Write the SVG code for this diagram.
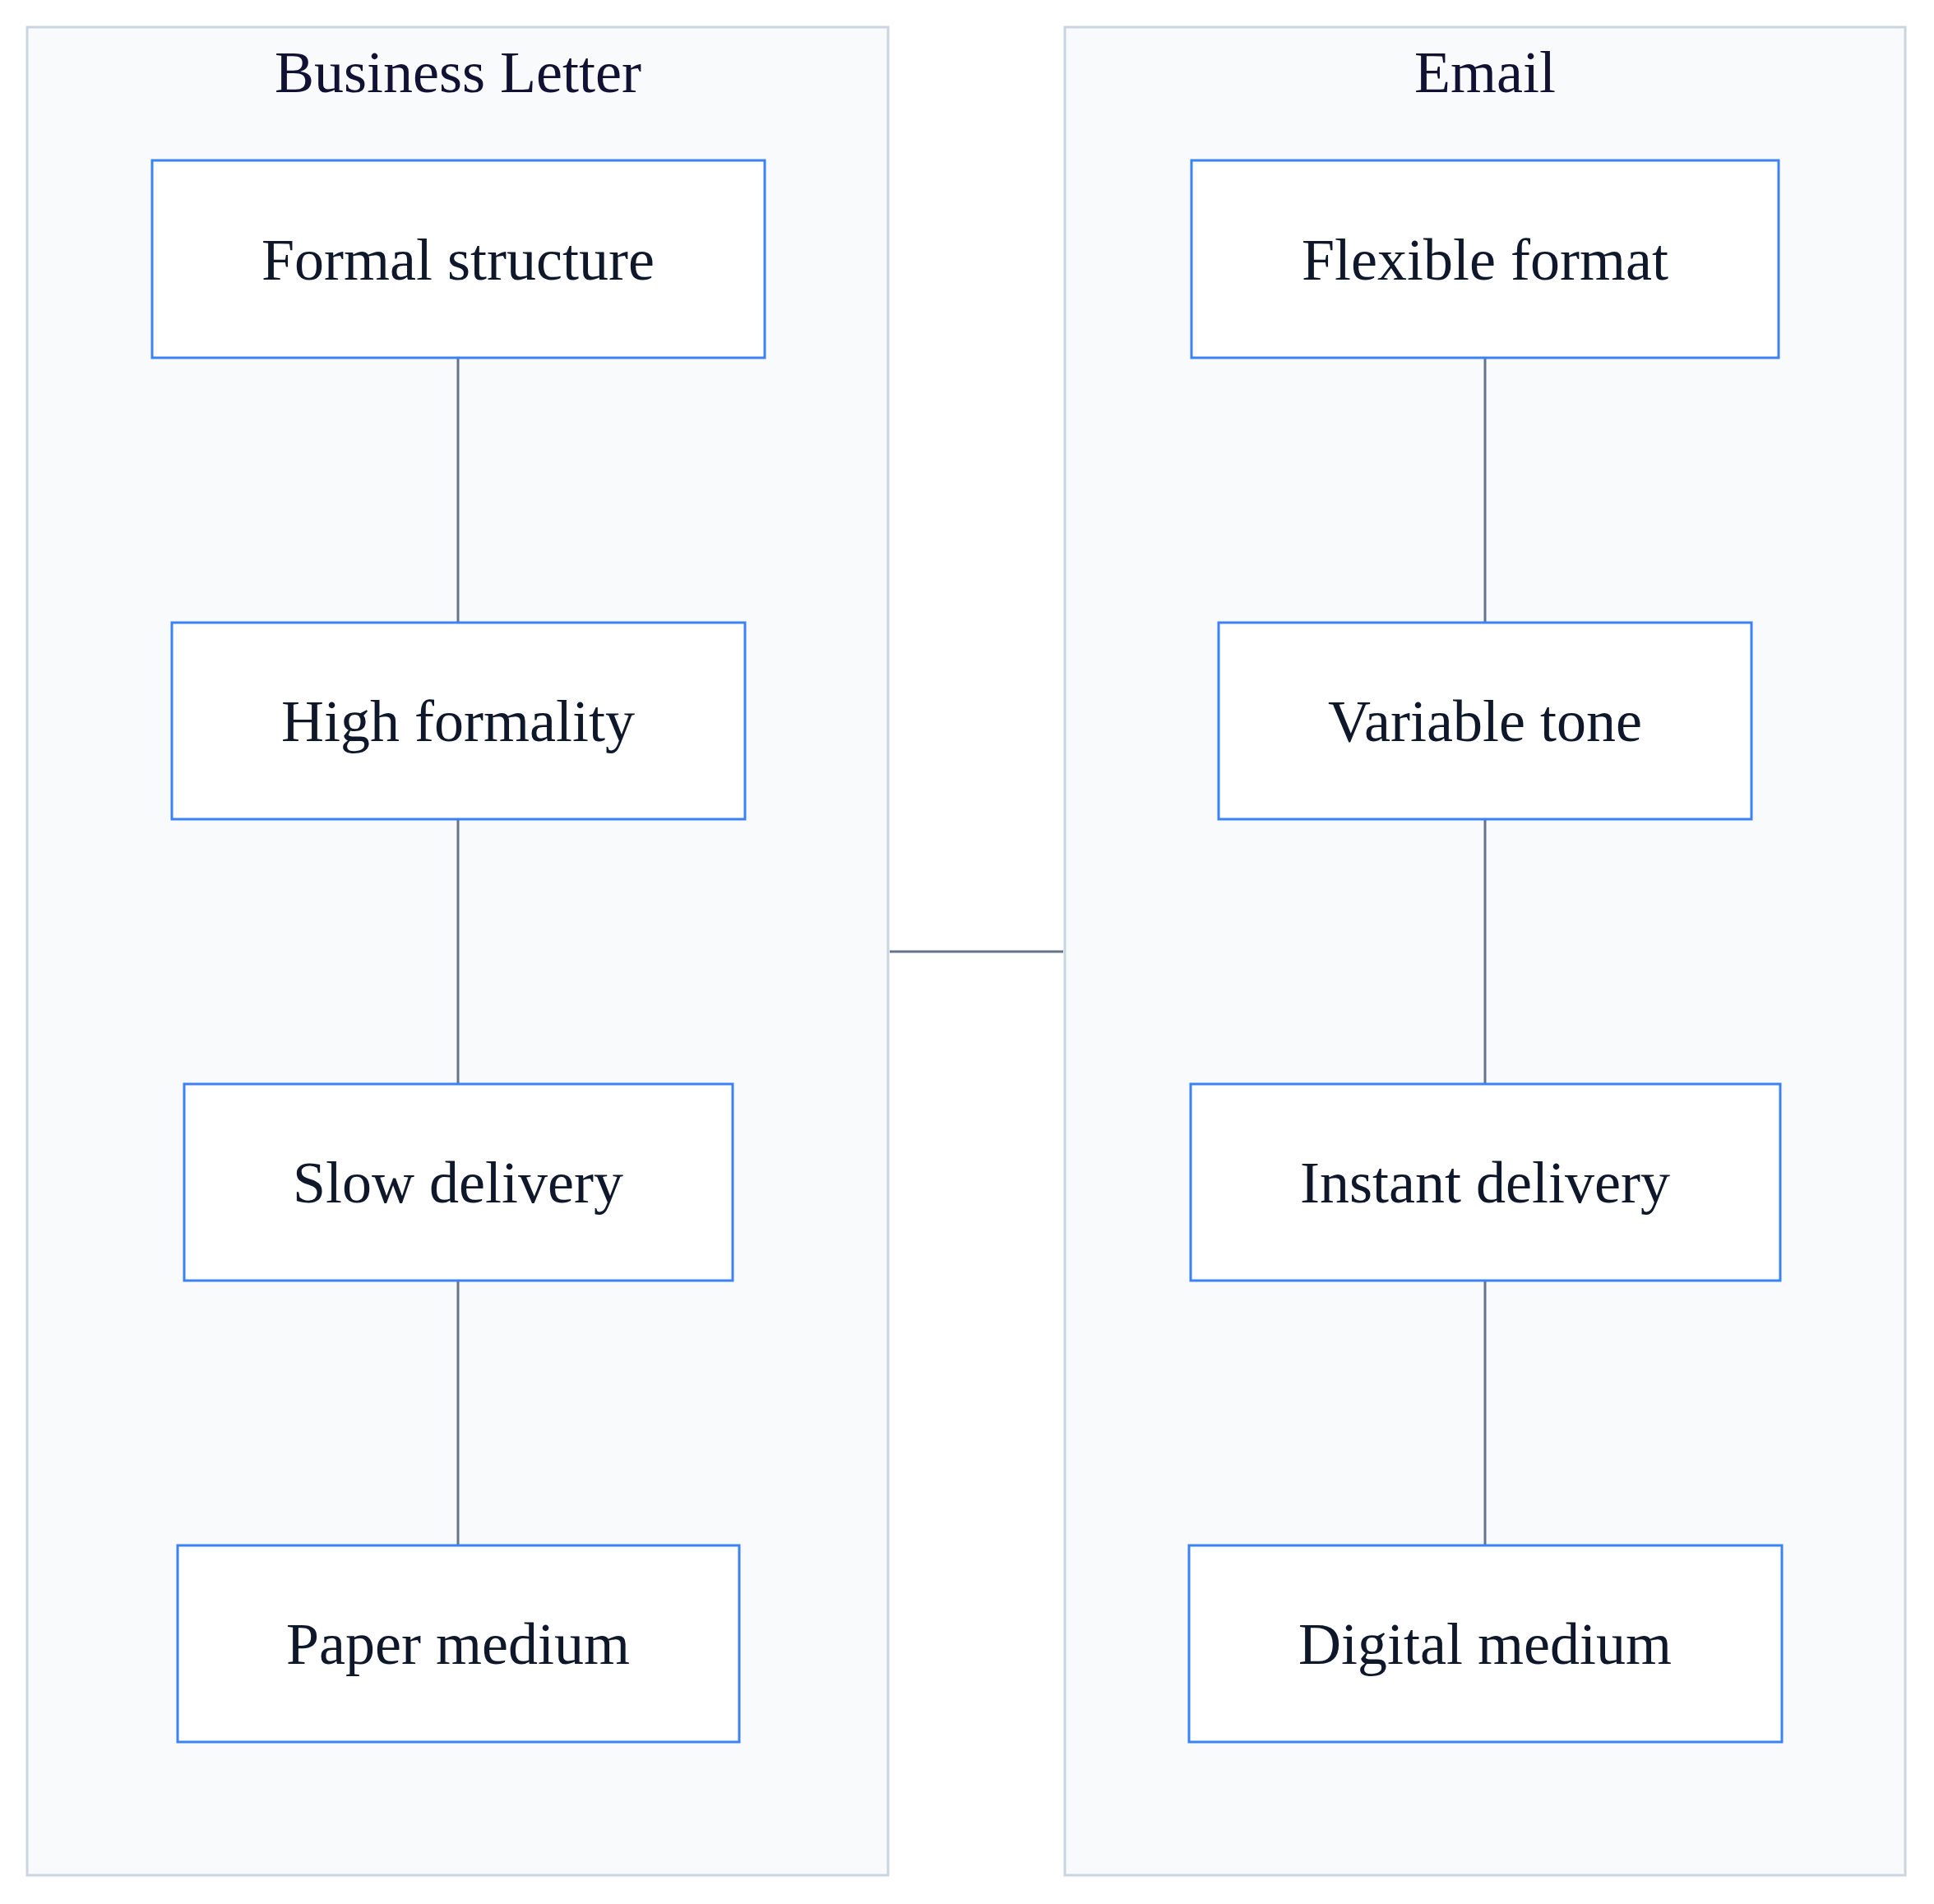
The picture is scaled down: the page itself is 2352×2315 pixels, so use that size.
<svg xmlns="http://www.w3.org/2000/svg" width="2352" height="2315" viewBox="0 0 2352 2315">
<style>
.cl{fill:#f8fafc;stroke:#cbd5e1;stroke-width:3}
.nd{fill:#ffffff;stroke:#3b82f6;stroke-width:3}
.t{font-family:"Liberation Serif",serif;font-size:72px;fill:#0f172a;text-anchor:middle}
.ct{font-family:"Liberation Serif",serif;font-size:72px;fill:#111133;text-anchor:middle}
.e{stroke:#64748b;stroke-width:3;fill:none}
</style>
<rect width="2352" height="2315" fill="#ffffff"/>
<g id="cluster-letter"><rect class="cl" x="33" y="33" width="1047" height="2247"/><text class="ct" x="557" y="112">Business Letter</text></g>
<g id="cluster-email"><rect class="cl" x="1295" y="33" width="1022" height="2247"/><text class="ct" x="1806" y="112">Email</text></g>
<g id="connectors">
<line class="e" x1="557" y1="435" x2="557" y2="757"/>
<line class="e" x1="557" y1="996" x2="557" y2="1318"/>
<line class="e" x1="557" y1="1557" x2="557" y2="1879"/>
<line class="e" x1="1806" y1="435" x2="1806" y2="757"/>
<line class="e" x1="1806" y1="996" x2="1806" y2="1318"/>
<line class="e" x1="1806" y1="1557" x2="1806" y2="1879"/>
<line class="e" x1="1082" y1="1157" x2="1293" y2="1157"/>
</g>
<g id="n1"><rect class="nd" x="185" y="195" width="745" height="240"/><text class="t" x="557" y="340">Formal structure</text></g>
<g id="n2"><rect class="nd" x="209" y="757" width="697" height="239"/><text class="t" x="557" y="901">High formality</text></g>
<g id="n3"><rect class="nd" x="224" y="1318" width="667" height="239"/><text class="t" x="557" y="1462">Slow delivery</text></g>
<g id="n4"><rect class="nd" x="216" y="1879" width="683" height="239"/><text class="t" x="557" y="2023">Paper medium</text></g>
<g id="n5"><rect class="nd" x="1449" y="195" width="714" height="240"/><text class="t" x="1806" y="340">Flexible format</text></g>
<g id="n6"><rect class="nd" x="1482" y="757" width="648" height="239"/><text class="t" x="1806" y="901">Variable tone</text></g>
<g id="n7"><rect class="nd" x="1448" y="1318" width="717" height="239"/><text class="t" x="1806" y="1462">Instant delivery</text></g>
<g id="n8"><rect class="nd" x="1446" y="1879" width="721" height="239"/><text class="t" x="1806" y="2023">Digital medium</text></g>
</svg>
